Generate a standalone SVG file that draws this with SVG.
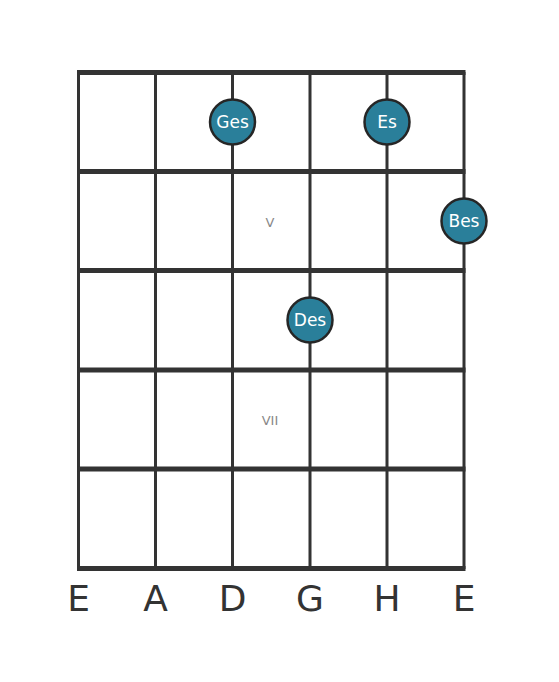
<svg xmlns="http://www.w3.org/2000/svg" width="559" height="682" viewBox="0 0 559 682">
<style>
.fret{stroke:#333;stroke-width:5}
.str{stroke:#333;stroke-width:3}
.note circle{fill:#2a7f9a;stroke:#262626;stroke-width:2.5}
.note text{fill:#fff;font-family:"DejaVu Sans",sans-serif;font-size:17px;text-anchor:middle}
.pos{fill:#888;font-family:"DejaVu Sans",sans-serif;font-size:13px;text-anchor:middle}
.sname{fill:#333;font-family:"DejaVu Sans",sans-serif;font-size:36px;text-anchor:middle}
</style>
<rect width="559" height="682" fill="#fff"/>
<g id="connectors">
<line class="str" x1="78.5" y1="72" x2="78.5" y2="569"/>
<line class="str" x1="155.5" y1="72" x2="155.5" y2="569"/>
<line class="str" x1="232.5" y1="72" x2="232.5" y2="569"/>
<line class="str" x1="310" y1="72" x2="310" y2="569"/>
<line class="str" x1="387" y1="72" x2="387" y2="569"/>
<line class="str" x1="464" y1="72" x2="464" y2="569"/>
<line class="fret" x1="77" y1="72.5" x2="465.5" y2="72.5"/>
<line class="fret" x1="77" y1="171.5" x2="465.5" y2="171.5"/>
<line class="fret" x1="77" y1="270.5" x2="465.5" y2="270.5"/>
<line class="fret" x1="77" y1="370" x2="465.5" y2="370"/>
<line class="fret" x1="77" y1="469" x2="465.5" y2="469"/>
<line class="fret" x1="77" y1="568.5" x2="465.5" y2="568.5"/>
</g>
<text class="pos" x="270" y="227">V</text>
<text class="pos" x="270" y="425">VII</text>
<g id="note-ges" class="note"><circle cx="232.5" cy="122" r="22.5"/><text x="232.5" y="128">Ges</text></g>
<g id="note-es" class="note"><circle cx="387" cy="122" r="22.5"/><text x="387" y="128">Es</text></g>
<g id="note-bes" class="note"><circle cx="464" cy="221" r="22.5"/><text x="464" y="227">Bes</text></g>
<g id="note-des" class="note"><circle cx="310" cy="320" r="22.5"/><text x="310" y="326">Des</text></g>
<g id="string-names">
<text class="sname" x="78.5" y="611">E</text>
<text class="sname" x="155.5" y="611">A</text>
<text class="sname" x="232.5" y="611">D</text>
<text class="sname" x="310" y="611">G</text>
<text class="sname" x="387" y="611">H</text>
<text class="sname" x="464" y="611">E</text>
</g>
</svg>
